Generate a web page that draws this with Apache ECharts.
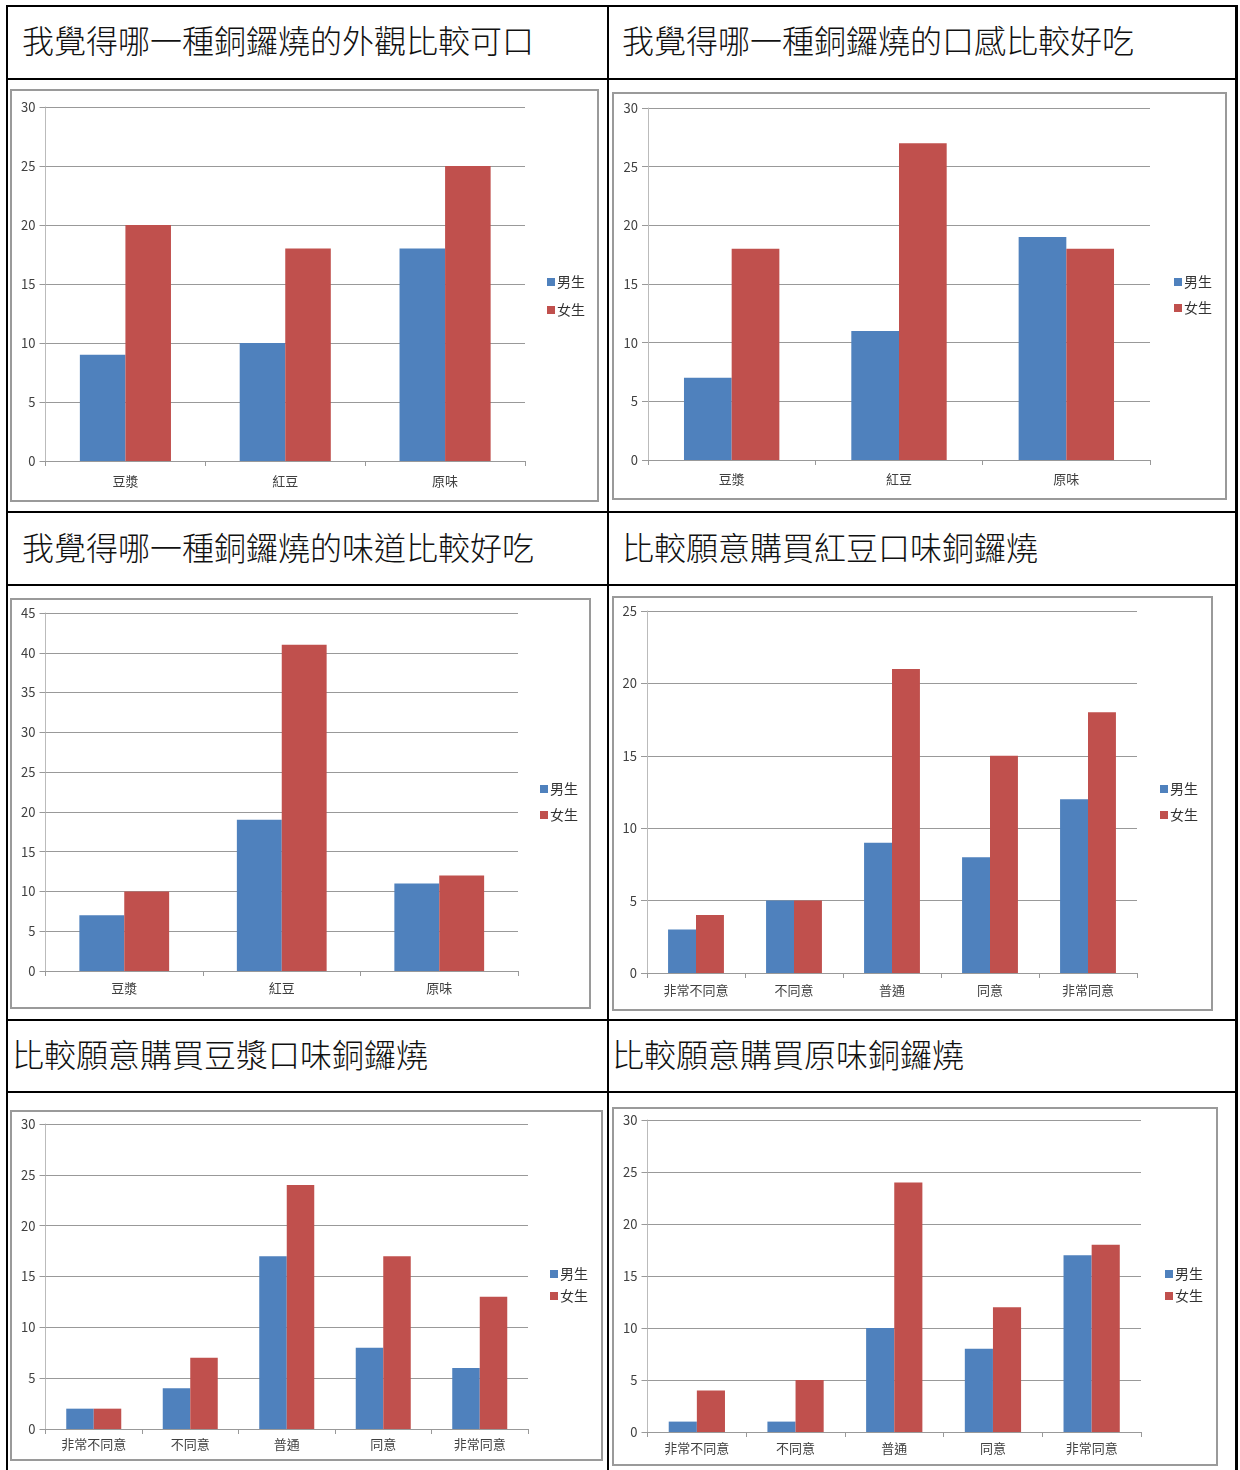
<!DOCTYPE html>
<html>
<head>
<meta charset="utf-8">
<title>銅鑼燒問卷統計</title>
<script src="https://cdn.jsdelivr.net/npm/echarts@6/dist/echarts.min.js"></script>
<style>
body { margin: 0; background: #fff; font-family: "Noto Sans CJK TC", sans-serif; }
#page { position: relative; width: 1240px; height: 1470px; overflow: hidden; }
.line { position: absolute; background: #000; }
.title { position: absolute; font-size: 32px; line-height: 40px; font-weight: 300; color: #111; white-space: nowrap; }
.frame { position: absolute; border: 2px solid #9a9a9a; box-sizing: border-box; }
.frame div { width: 100%; height: 100%; }
</style>
</head>
<body>
<div id="page">
	<!-- 表格線 -->
	<div class="line" style="left:6px; top:5px; width:1232px; height:2px;"></div>
	<div class="line" style="left:6px; top:78px; width:1232px; height:2px;"></div>
	<div class="line" style="left:6px; top:511px; width:1232px; height:2px;"></div>
	<div class="line" style="left:6px; top:584px; width:1232px; height:2px;"></div>
	<div class="line" style="left:6px; top:1019px; width:1232px; height:2px;"></div>
	<div class="line" style="left:6px; top:1091px; width:1232px; height:2px;"></div>
	<div class="line" style="left:6px; top:5px; width:2px; height:1465px;"></div>
	<div class="line" style="left:607px; top:5px; width:2px; height:1465px;"></div>
	<div class="line" style="left:1235px; top:5px; width:3px; height:1465px;"></div>

	<div class="title" style="left:22px; top:19px;">我覺得哪一種銅鑼燒的外觀比較可口</div>
	<div class="title" style="left:622px; top:19px;">我覺得哪一種銅鑼燒的口感比較好吃</div>
	<div class="title" style="left:22px; top:526px;">我覺得哪一種銅鑼燒的味道比較好吃</div>
	<div class="title" style="left:622px; top:526px;">比較願意購買紅豆口味銅鑼燒</div>
	<div class="title" style="left:12px; top:1033px;">比較願意購買豆漿口味銅鑼燒</div>
	<div class="title" style="left:612px; top:1033px;">比較願意購買原味銅鑼燒</div>

	<div class="frame" id="f1"><div id="c1"></div></div>
	<div class="frame" id="f2"><div id="c2"></div></div>
	<div class="frame" id="f3"><div id="c3"></div></div>
	<div class="frame" id="f4"><div id="c4"></div></div>
	<div class="frame" id="f5"><div id="c5"></div></div>
	<div class="frame" id="f6"><div id="c6"></div></div>
</div>
<script type="text/javascript">
	// 資料
	var flavors = ['豆漿', '紅豆', '原味'];
	var levels = ['非常不同意', '不同意', '普通', '同意', '非常同意'];
	var seriesNames = ['男生', '女生'];

	var lookMale = [9, 10, 18];
	var lookFemale = [20, 18, 25];
	var textureMale = [7, 11, 19];
	var textureFemale = [18, 27, 18];
	var tasteMale = [7, 19, 11];
	var tasteFemale = [10, 41, 12];
	var redBeanMale = [3, 5, 9, 8, 12];
	var redBeanFemale = [4, 5, 21, 15, 18];
	var soyMale = [2, 4, 17, 8, 6];
	var soyFemale = [2, 7, 24, 17, 13];
	var plainMale = [1, 1, 10, 8, 17];
	var plainFemale = [4, 5, 24, 12, 18];

	var BORDER = 2;

	// frame: [左, 上, 右, 下]  grid: [軸x, 頂線y, 右端x, 底線y]  (頁面座標)
	function drawChart(n, cats, male, female, yMax, lay) {
		var f = document.getElementById('f' + n);
		f.style.left = lay.frame[0] + 'px';
		f.style.top = lay.frame[1] + 'px';
		f.style.width = (lay.frame[2] - lay.frame[0]) + 'px';
		f.style.height = (lay.frame[3] - lay.frame[1]) + 'px';
		var ox = lay.frame[0] + BORDER, oy = lay.frame[1] + BORDER;

		var chart = echarts.init(document.getElementById('c' + n));
		chart.setOption({
			animation: false,
			textStyle: { fontFamily: '"Noto Sans CJK TC", sans-serif' },
			legend: {
				data: seriesNames,
				orient: 'vertical',
				left: lay.legend[0] - ox,
				top: lay.legend[1] - oy,
				icon: 'rect',
				itemWidth: 8,
				itemHeight: 8,
				itemGap: lay.itemGap,
				padding: 0,
				textStyle: { fontSize: 14, color: '#333', padding: [0, 0, 0, -3] }
			},
			grid: {
				left: lay.grid[0] - ox,
				top: lay.grid[1] - oy,
				width: lay.grid[2] - lay.grid[0],
				height: lay.grid[3] - lay.grid[1],
				containLabel: false
			},
			xAxis: {
				type: 'category',
				data: cats,
				axisLine: { lineStyle: { color: '#999', width: 1 } },
				axisTick: { show: true, interval: 0, length: 5, lineStyle: { color: '#999' } },
				axisLabel: { interval: 0, fontSize: 13, color: '#404040', margin: lay.labelGap }
			},
			yAxis: {
				type: 'value',
				min: 0,
				max: yMax,
				interval: 5,
				axisLine: { show: true, lineStyle: { color: '#bbb' } },
				axisTick: { show: true, length: 6, lineStyle: { color: '#999' } },
				axisLabel: { fontSize: 13, color: '#404040', margin: 10 },
				splitLine: { lineStyle: { color: '#999', width: 1 } }
			},
			series: [{
				name: seriesNames[0],
				type: 'bar',
				data: male,
				barGap: '0%',
				barCategoryGap: '43%',
				itemStyle: { color: '#4F81BD' }
			}, {
				name: seriesNames[1],
				type: 'bar',
				data: female,
				barGap: '0%',
				barCategoryGap: '43%',
				itemStyle: { color: '#C0504D' }
			}]
		});
	}

	drawChart(1, flavors, lookMale, lookFemale, 30, {
		frame: [10, 89, 599, 502], grid: [45.5, 107, 525, 461], legend: [547, 275], itemGap: 14, labelGap: 14 });
	drawChart(2, flavors, textureMale, textureFemale, 30, {
		frame: [612, 92, 1227, 500], grid: [648, 108, 1150, 460], legend: [1174, 275], itemGap: 12, labelGap: 13 });
	drawChart(3, flavors, tasteMale, tasteFemale, 45, {
		frame: [10, 598, 591, 1009], grid: [45.5, 613, 518, 971], legend: [540, 782], itemGap: 12, labelGap: 11 });
	drawChart(4, levels, redBeanMale, redBeanFemale, 25, {
		frame: [612, 596, 1213, 1011], grid: [647, 611, 1137, 973], legend: [1160, 782], itemGap: 12, labelGap: 11 });
	drawChart(5, levels, soyMale, soyFemale, 30, {
		frame: [10, 1110, 603, 1461], grid: [45.5, 1124, 528, 1429], legend: [550, 1267], itemGap: 8, labelGap: 9 });
	drawChart(6, levels, plainMale, plainFemale, 30, {
		frame: [612, 1107, 1218, 1466], grid: [647.5, 1120, 1141, 1432], legend: [1165, 1267], itemGap: 8, labelGap: 10 });
</script>
</body>
</html>
